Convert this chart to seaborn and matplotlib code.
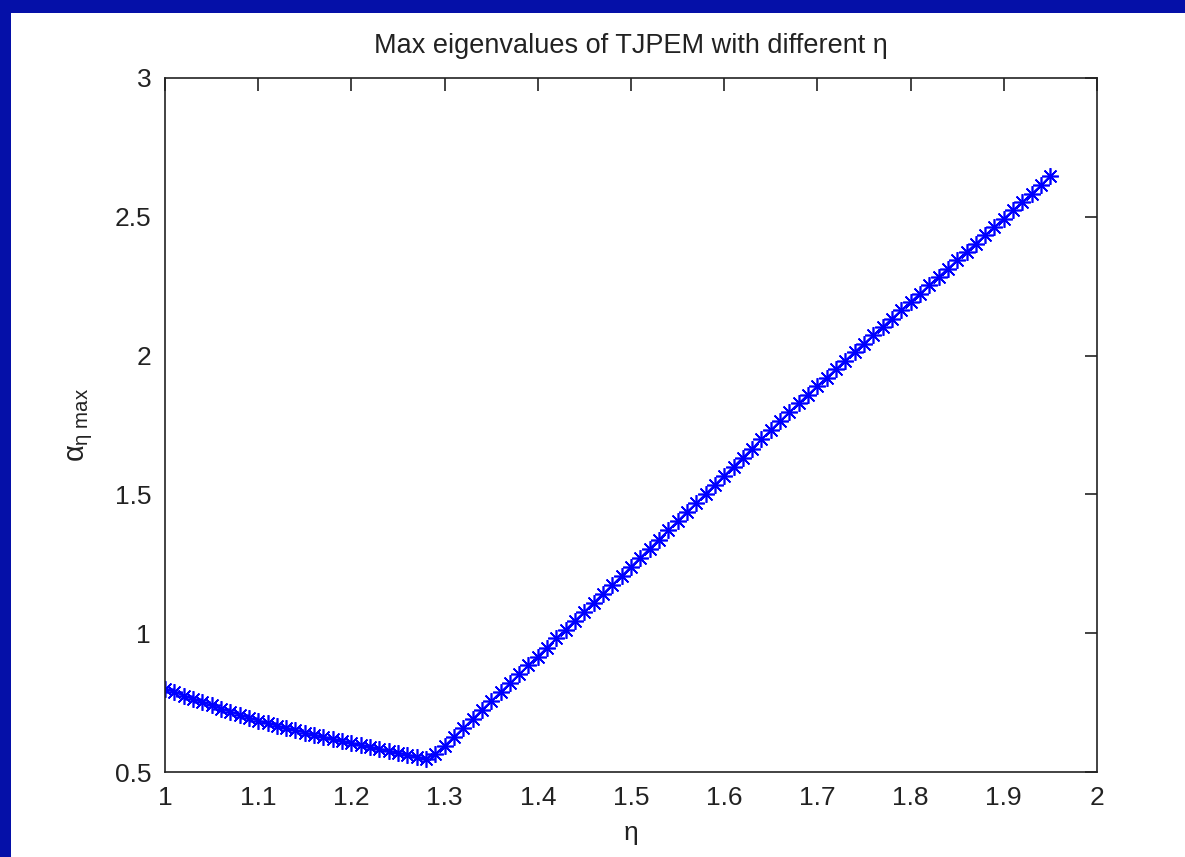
import numpy as np
import pandas as pd
import matplotlib
matplotlib.use("Agg")
import matplotlib.pyplot as plt
import seaborn as sns
from matplotlib.patches import Rectangle

# ---- data ----
eta_left = [1.00, 1.01, 1.02, 1.03, 1.04, 1.05, 1.06, 1.07, 1.08, 1.09,
            1.10, 1.11, 1.12, 1.13, 1.14, 1.15, 1.16, 1.17, 1.18, 1.19,
            1.20, 1.21, 1.22, 1.23, 1.24, 1.25, 1.26, 1.27, 1.28]
alpha_left = [0.800, 0.787, 0.775, 0.763, 0.751, 0.740, 0.728, 0.717, 0.706, 0.695,
              0.685, 0.676, 0.667, 0.658, 0.650, 0.642, 0.634, 0.626, 0.618, 0.611,
              0.604, 0.597, 0.590, 0.583, 0.576, 0.569, 0.562, 0.555, 0.546]
eta_right = [1.29, 1.30, 1.31, 1.32, 1.33, 1.34, 1.35, 1.36, 1.37, 1.38, 1.39,
             1.40, 1.41, 1.42, 1.43, 1.44, 1.45, 1.46, 1.47, 1.48, 1.49,
             1.50, 1.51, 1.52, 1.53, 1.54, 1.55, 1.56, 1.57, 1.58, 1.59,
             1.60, 1.61, 1.62, 1.63, 1.64, 1.65, 1.66, 1.67, 1.68, 1.69,
             1.70, 1.71, 1.72, 1.73, 1.74, 1.75, 1.76, 1.77, 1.78, 1.79,
             1.80, 1.81, 1.82, 1.83, 1.84, 1.85, 1.86, 1.87, 1.88, 1.89,
             1.90, 1.91, 1.92, 1.93, 1.94, 1.95]
alpha_right = [0.565, 0.594, 0.626, 0.658, 0.690, 0.723, 0.755, 0.787, 0.819, 0.852, 0.884,
               0.916, 0.948, 0.981, 1.013, 1.045, 1.077, 1.110, 1.142, 1.174, 1.206,
               1.239, 1.272, 1.304, 1.337, 1.370, 1.403, 1.436, 1.468, 1.501, 1.534,
               1.567, 1.600, 1.632, 1.665, 1.698, 1.731, 1.764, 1.796, 1.828, 1.859,
               1.890, 1.920, 1.951, 1.982, 2.013, 2.043, 2.073, 2.103, 2.133, 2.163,
               2.193, 2.223, 2.253, 2.283, 2.313, 2.343, 2.373, 2.403, 2.433, 2.463,
               2.493, 2.523, 2.553, 2.583, 2.613, 2.648]
x_ticks = [1, 1.1, 1.2, 1.3, 1.4, 1.5, 1.6, 1.7, 1.8, 1.9, 2]
x_ticklabels = ["1", "1.1", "1.2", "1.3", "1.4", "1.5", "1.6", "1.7", "1.8", "1.9", "2"]
y_ticks = [0.5, 1, 1.5, 2, 2.5, 3]
y_ticklabels = ["0.5", "1", "1.5", "2", "2.5", "3"]
title = "Max eigenvalues of TJPEM with different \u03b7"
xlabel = "\u03b7"
ylabel = r"$\alpha_{\eta\ \mathrm{max}}$"

df = pd.DataFrame({"eta": eta_left + eta_right, "alpha": alpha_left + alpha_right})

sns.set_style("white")
plt.rcParams["font.family"] = ["Liberation Sans", "DejaVu Sans"]
plt.rcParams["mathtext.fontset"] = "custom"
plt.rcParams["mathtext.rm"] = "Liberation Sans"
plt.rcParams["mathtext.it"] = "Liberation Sans"

fig = plt.figure(figsize=(11.85, 8.57), dpi=100, facecolor="#0510A8")
bg = Rectangle((11 / 1185, 0), 1 - 11 / 1185, 1 - 13 / 857,
               transform=fig.transFigure, facecolor="white",
               edgecolor="none", zorder=-10)
fig.patches.append(bg)
ax = fig.add_axes([165 / 1185, 1 - 772 / 857, (1097 - 165) / 1185, (772 - 78) / 857])
ax.set_zorder(5)
ax.set_facecolor("white")

sns.lineplot(data=df, x="eta", y="alpha", ax=ax, color="#0000FF", linewidth=1.3,
             marker=(8, 2, 0), markersize=12, markeredgewidth=1.2,
             markeredgecolor="#0000FF", sort=False, estimator=None)

ax.set_xlim(1, 2)
ax.set_ylim(0.5, 3)
ax.set_xticks(x_ticks)
ax.set_xticklabels(x_ticklabels)
ax.set_yticks(y_ticks)
ax.set_yticklabels(y_ticklabels)
ax.tick_params(direction="in", length=9, width=1.2, top=True, right=True,
               labelsize=19, colors="#222222", pad=10)
for s in ax.spines.values():
    s.set_visible(True)
    s.set_color("#222222")
    s.set_linewidth(1.2)

ax.set_title(title, fontsize=19.5, color="#222222", pad=18)
ax.set_xlabel(xlabel, fontsize=19, color="#222222", labelpad=8)
ax.set_ylabel(ylabel, fontsize=21, color="#222222", labelpad=14)

fig.savefig("out.png", dpi=100, facecolor=fig.get_facecolor())
